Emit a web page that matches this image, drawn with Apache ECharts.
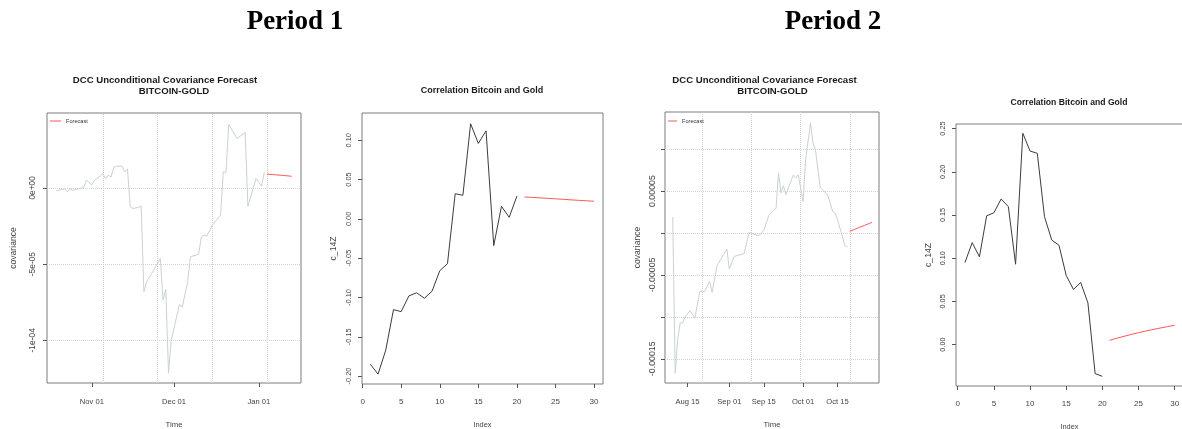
<!DOCTYPE html>
<html>
<head>
<meta charset="utf-8">
<script src="https://cdn.jsdelivr.net/npm/echarts@6/dist/echarts.min.js"></script>
<style>
  html, body { margin: 0; padding: 0; background: #ffffff; }
  #chart { width: 1182px; height: 429px; }
</style>
</head>
<body>
<div id="chart"></div>
<script>
// ---------- Period 1: DCC conditional covariance BITCOIN-GOLD (units of 1e-6) ----------
const p1Dates = ['2017-10-19','2017-10-21','2017-10-22','2017-10-23','2017-10-24','2017-10-25','2017-10-26','2017-10-27',
  '2017-10-29','2017-10-30','2017-11-01','2017-11-02','2017-11-04','2017-11-05','2017-11-06','2017-11-07','2017-11-08',
  '2017-11-09','2017-11-10','2017-11-12','2017-11-13','2017-11-14','2017-11-15','2017-11-16','2017-11-18','2017-11-19',
  '2017-11-20','2017-11-21','2017-11-24','2017-11-26','2017-11-27','2017-11-28','2017-11-29','2017-11-30','2017-12-03',
  '2017-12-04','2017-12-06','2017-12-07','2017-12-10','2017-12-11','2017-12-12','2017-12-13','2017-12-15','2017-12-18',
  '2017-12-19','2017-12-20','2017-12-21','2017-12-24','2017-12-27','2017-12-28','2017-12-31','2018-01-02','2018-01-03'];
const p1Cov = [-1.97,-1.05,-0.66,-2.62,-0.66,-1.70,-1.05,-0.66,
  0.26,5.05,1.97,5.05,7.67,9.44,6.16,8.32,7.21,
  13.37,14.22,14.22,10.48,12.45,-12.45,-13.5,-12.84,-11.99,
  -68.15,-61.6,-52.8,-46.3,-73.6,-66.6,-121.6,-99.8,-76.5,
  -78.4,-61.6,-45.2,-43.6,-32.1,-31.0,-31.6,-24.4,-17.9,
  10.5,10.1,41.7,32.4,36.3,-12.0,6.16,1.11,10.3];
const p1FcDates = ['2018-01-04','2018-01-05','2018-01-06','2018-01-07','2018-01-08','2018-01-09','2018-01-10','2018-01-11','2018-01-12','2018-01-13'];
const p1FcCov = [8.98,8.85,8.72,8.58,8.43,8.28,8.12,7.95,7.78,7.60];
const p1TimeTicks = ['2017-11-01','2017-12-01','2018-01-01'];
const p1CovTicks = [0, -5e-5, -1e-4];
const p1CovTickLabels = ['0e+00', '-5e-05', '-1e-04'];
const p1GridDates = ['2017-11-05','2017-11-25','2017-12-15','2018-01-04'];

// ---------- Period 1: correlation c_14Z and forecast ----------
const corrIndex = [1,2,3,4,5,6,7,8,9,10,11,12,13,14,15,16,17,18,19,20];
const fcIndex = [21,22,23,24,25,26,27,28,29,30];
const p1Corr = [-0.185,-0.1975,-0.167,-0.1155,-0.118,-0.098,-0.094,-0.101,-0.092,-0.066,
  -0.057,0.032,0.030,0.121,0.096,0.112,-0.034,0.016,0.002,0.029];
const p1CorrFc = [0.0279,0.0273,0.0267,0.0261,0.0255,0.0249,0.0242,0.0236,0.0230,0.0224];
const p1CorrTicks = [-0.20,-0.15,-0.10,-0.05,0.00,0.05,0.10];
const indexTicks = [0,5,10,15,20,25,30];

// ---------- Period 2: DCC conditional covariance BITCOIN-GOLD (units of 1e-6) ----------
const p2Dates = ['2018-08-09','2018-08-10','2018-08-11','2018-08-12','2018-08-13','2018-08-14','2018-08-16','2018-08-18',
  '2018-08-20','2018-08-22','2018-08-24','2018-08-25','2018-08-27','2018-08-31','2018-09-01','2018-09-03','2018-09-07',
  '2018-09-09','2018-09-13','2018-09-15','2018-09-17','2018-09-19','2018-09-20','2018-09-21','2018-09-22','2018-09-23',
  '2018-09-24','2018-09-27','2018-09-28','2018-09-29','2018-10-01','2018-10-02','2018-10-04','2018-10-05','2018-10-06',
  '2018-10-08','2018-10-11','2018-10-13','2018-10-14','2018-10-15','2018-10-18','2018-10-19'];
const p2Cov = [19.1,-167.0,-127.2,-107.3,-107.3,-100.0,-92.7,-101.4,
  -69.6,-69.6,-57.7,-70.8,-39.0,-19.1,-42.9,-27.9,-24.7,
  0.7,-3.2,3.1,20.6,27.8,29.3,71.6,47.7,56.4,
  45.7,69.2,65.6,69.5,37.7,87.4,131.2,107.3,99.3,
  53.7,45.7,25.8,23.9,15.9,-15.1,-16.7];
const p2FcDates = ['2018-10-20','2018-10-21','2018-10-22','2018-10-23','2018-10-24','2018-10-25','2018-10-26','2018-10-27','2018-10-28','2018-10-29'];
const p2FcCov = [1.9,3.2,4.4,5.6,6.8,8.0,9.1,10.3,11.5,12.6];
const p2TimeTicks = ['2018-08-15','2018-09-01','2018-09-15','2018-10-01','2018-10-15','2018-11-01'];
const p2CovTicks = [1e-4, 5e-5, 0, -5e-5, -1e-4, -1.5e-4];
const p2CovTickLabels = ['', '0.00005', '', '-0.00005', '', '-0.00015'];
const p2GridDates = ['2018-08-21','2018-09-10','2018-09-30','2018-10-20'];

// ---------- Period 2: correlation c_14Z and forecast ----------
const p2Corr = [0.095,0.118,0.1016,0.149,0.1526,0.1685,0.1596,0.093,0.2446,0.224,
  0.2214,0.148,0.121,0.115,0.080,0.0638,0.0719,0.0483,-0.0336,-0.0367];
const p2CorrFc = [0.0050,0.0074,0.0096,0.0118,0.0138,0.0157,0.0175,0.0192,0.0208,0.0224];
const p2CorrTicks = [0.00,0.05,0.10,0.15,0.20,0.25];

// ---------- helpers ----------
const DAY = 864e5;
const t = s => +new Date(s + 'T00:00:00');
const MONTHS = ['Jan','Feb','Mar','Apr','May','Jun','Jul','Aug','Sep','Oct','Nov','Dec'];
const fmtDate = v => { const d = new Date(v); return MONTHS[d.getMonth()] + ' ' + String(d.getDate()).padStart(2, '0'); };
const pairs = (xs, ys, k) => xs.map((x, i) => [x, ys[i] * (k || 1)]);
const lookup = (ticks, labels) => v => {
  let best = 0;
  ticks.forEach((tv, i) => { if (Math.abs(tv - v) < Math.abs(ticks[best] - v)) best = i; });
  return labels[best];
};

const FONT = 'Liberation Sans, Arial, sans-serif';
const TXT = '#444';
const BORDER = '#7d7d7d';
const COV_LINE = '#c9d3cf';
const FC_RED = '#ff5656';
const CORR_LINE = '#3c3c3c';
const GRID_LINE = '#d2d2d2';
const TICK = { show: true, length: 4, lineStyle: { color: '#555' } };

// time runs on a plain numeric axis (milliseconds), labelled as "Mon DD"
function xTimeAxis(gridIndex, ticks, min, max) {
  const vals = ticks.map(t);
  return {
    type: 'value', gridIndex, min, max,
    name: 'Time', nameLocation: 'middle', nameGap: 38,
    nameTextStyle: { fontFamily: FONT, fontSize: 7.8, color: TXT },
    axisLine: { show: false, onZero: false },
    axisTick: Object.assign({ customValues: vals }, TICK),
    axisLabel: { customValues: vals, formatter: fmtDate, fontFamily: FONT, fontSize: 7.6, color: TXT, margin: 15 },
    splitLine: { show: false }
  };
}
function xIndexAxis(gridIndex, min, max) {
  return {
    type: 'value', gridIndex, min, max,
    name: 'Index', nameLocation: 'middle', nameGap: 37,
    nameTextStyle: { fontFamily: FONT, fontSize: 7.4, color: TXT },
    axisLine: { show: false, onZero: false },
    axisTick: Object.assign({ customValues: indexTicks }, TICK),
    axisLabel: { customValues: indexTicks, fontFamily: FONT, fontSize: 8, color: TXT, margin: 14 },
    splitLine: { show: false }
  };
}
function yAxis(gridIndex, min, max, ticks, formatter, name, fontSize, gap, margin) {
  return {
    type: 'value', gridIndex, min, max,
    name, nameLocation: 'middle', nameGap: gap, nameRotate: 90,
    nameTextStyle: { fontFamily: FONT, fontSize: 8.6, color: TXT },
    axisLine: { show: false, onZero: false },
    axisTick: Object.assign({ customValues: ticks }, TICK),
    axisLabel: { customValues: ticks, formatter, rotate: 90, fontFamily: FONT, fontSize, color: TXT, margin },
    splitLine: { show: false }
  };
}
function gridLines(xi, yi, dates, yTicks) {
  return {
    type: 'line', xAxisIndex: xi, yAxisIndex: yi, data: [], silent: true,
    markLine: {
      z: 1, silent: true, symbol: ['none', 'none'], animation: false, precision: 12,
      label: { show: false },
      lineStyle: { type: 'dotted', color: GRID_LINE, width: 1 },
      emphasis: { disabled: true },
      data: dates.map(d => ({ xAxis: t(d) })).concat(yTicks.map(v => ({ yAxis: v })))
    }
  };
}
const lineSeries = (name, xi, yi, data, color) => ({
  name, type: 'line', xAxisIndex: xi, yAxisIndex: yi, data,
  symbol: 'none', showSymbol: false, silent: true, z: 3,
  lineStyle: { color, width: 1 }, itemStyle: { color },
  emphasis: { disabled: true }
});
const label = (text, x, y, font, fill) => ({
  type: 'text', x, y, silent: true,
  style: { text, font, fill: fill || '#1a1a1a', align: 'center', verticalAlign: 'middle', textAlign: 'center', textVerticalAlign: 'middle' }
});
const panel = (left, top, width, height) => ({
  left, top, width, height, show: true, borderColor: BORDER, borderWidth: 1,
  containLabel: false, outerBoundsMode: 'none'
});

const chart = echarts.init(document.getElementById('chart'), null, { renderer: 'canvas' });
chart.setOption({
  animation: false,
  backgroundColor: '#ffffff',
  textStyle: { fontFamily: FONT },
  grid: [
    panel(47, 113, 254, 270),
    panel(362, 113, 241, 271),
    panel(665, 112, 214, 271),
    panel(956, 124, 227, 262)
  ],
  xAxis: [
    xTimeAxis(0, p1TimeTicks, t('2017-11-01') - 16.4 * DAY, t('2017-11-01') + 76.4 * DAY),
    xIndexAxis(1, -0.08, 31.16),
    xTimeAxis(2, p2TimeTicks, t('2018-08-15') - 9.15 * DAY, t('2018-08-15') + 77.85 * DAY),
    xIndexAxis(3, -0.24, 31.15)
  ],
  yAxis: [
    yAxis(0, -128.0e-6, 49.1e-6, p1CovTicks, lookup(p1CovTicks, p1CovTickLabels), 'covariance', 8.4, 29, 10),
    yAxis(1, -0.2101, 0.1347, p1CorrTicks, v => v.toFixed(2), 'c_14Z', 7.4, 24, 9.5),
    yAxis(2, -178.9e-6, 144.3e-6, p2CovTicks, lookup(p2CovTicks, p2CovTickLabels), 'covariance', 8.8, 23, 8),
    yAxis(3, -0.0479, 0.2553, p2CorrTicks, v => v.toFixed(2), 'c_14Z', 7.3, 23, 9.5)
  ],
  legend: [
    { left: 50, top: 118, padding: 0, data: ['Forecast'], icon: 'rect', itemWidth: 11, itemHeight: 1, selectedMode: false,
      textStyle: { fontFamily: FONT, fontSize: 5.6, color: '#333' } },
    { left: 668, top: 118, padding: 0, data: ['Forecast'], icon: 'rect', itemWidth: 9, itemHeight: 1, selectedMode: false,
      textStyle: { fontFamily: FONT, fontSize: 5.6, color: '#333' } }
  ],
  series: [
    gridLines(0, 0, p1GridDates, p1CovTicks),
    lineSeries('covariance', 0, 0, pairs(p1Dates.map(t), p1Cov, 1e-6), COV_LINE),
    lineSeries('Forecast', 0, 0, pairs(p1FcDates.map(t), p1FcCov, 1e-6), FC_RED),
    lineSeries('c_14Z', 1, 1, pairs(corrIndex, p1Corr), CORR_LINE),
    lineSeries('c_14Z forecast', 1, 1, pairs(fcIndex, p1CorrFc), FC_RED),
    gridLines(2, 2, p2GridDates, p2CovTicks),
    lineSeries('covariance ', 2, 2, pairs(p2Dates.map(t), p2Cov, 1e-6), COV_LINE),
    lineSeries('Forecast', 2, 2, pairs(p2FcDates.map(t), p2FcCov, 1e-6), FC_RED),
    lineSeries('c_14Z ', 3, 3, pairs(corrIndex, p2Corr), CORR_LINE),
    lineSeries('c_14Z forecast ', 3, 3, pairs(fcIndex, p2CorrFc), FC_RED)
  ],
  graphic: [
    label('Period 1', 295, 22, 'bold 27px "Liberation Serif", "Times New Roman", serif', '#000'),
    label('Period 2', 833, 22, 'bold 27px "Liberation Serif", "Times New Roman", serif', '#000'),
    label('DCC Unconditional Covariance Forecast', 165, 80.5, 'bold 9.6px ' + FONT),
    label('BITCOIN-GOLD', 174, 91, 'bold 9.6px ' + FONT),
    label('Correlation Bitcoin and Gold', 482, 91, 'bold 9px ' + FONT),
    label('DCC Unconditional Covariance Forecast', 764.5, 80.7, 'bold 9.6px ' + FONT),
    label('BITCOIN-GOLD', 772.5, 91, 'bold 9.6px ' + FONT),
    label('Correlation Bitcoin and Gold', 1069, 102.3, 'bold 8.6px ' + FONT)
  ]
});
</script>
</body>
</html>
